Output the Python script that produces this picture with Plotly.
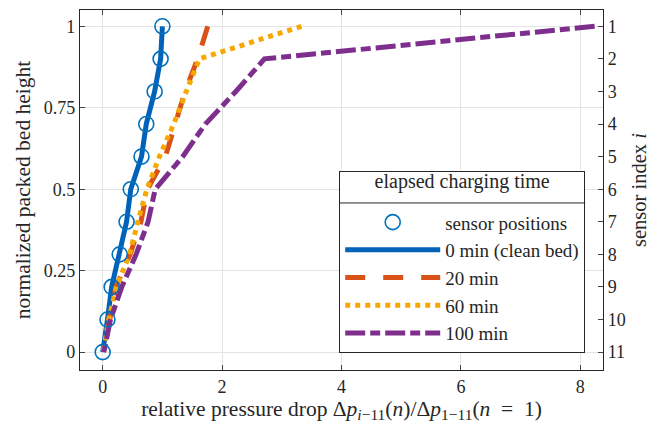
import plotly.graph_objects as go

# ---- data (ordered by sensor index i = 1 ... 11, top to bottom) ----
sensor_index = [1, 2, 3, 4, 5, 6, 7, 8, 9, 10, 11]
bed_height = [1.0, 0.9, 0.8, 0.7, 0.6, 0.5, 0.4, 0.3, 0.2, 0.1, 0.0]
dp_0min = [1.0, 0.97, 0.87, 0.73, 0.65, 0.47, 0.40, 0.285, 0.15, 0.08, 0.0]
dp_20min = [1.76, 1.59, 1.38, 1.21, 1.05, 0.75, 0.64, 0.46, 0.22, 0.12, 0.01]
dp_60min = [3.33, 1.62, 1.40, 1.19, 0.95, 0.74, 0.59, 0.45, 0.23, 0.10, 0.01]
dp_100min = [8.24, 2.71, 2.23, 1.72, 1.34, 0.88, 0.76, 0.56, 0.32, 0.13, 0.02]

x_ticks = [0, 2, 4, 6, 8]
y_ticks = [0, 0.25, 0.5, 0.75, 1]
y_ticklabels = ["0", "0.25", "0.5", "0.75", "1"]

FONT = "'Liberation Serif', 'Times New Roman', Times, serif"
AX = "#262626"

fig = go.Figure()
fig.add_trace(go.Scatter(x=dp_0min, y=bed_height, mode="lines", name="0 min (clean bed)",
                         line=dict(color="#0062B8", width=5), legendrank=2))
fig.add_trace(go.Scatter(x=dp_20min, y=bed_height, mode="lines", name="20 min",
                         line=dict(color="#D95319", width=5, dash="20px,18px"), legendrank=3))
fig.add_trace(go.Scatter(x=dp_60min, y=bed_height, mode="lines", name="60 min",
                         line=dict(color="#F7A800", width=5, dash="5px,5px"), legendrank=4))
fig.add_trace(go.Scatter(x=dp_100min, y=bed_height, mode="lines", name="100 min",
                         line=dict(color="#7E2F8E", width=5, dash="20px,5px,10px,5px"), legendrank=5))
fig.add_trace(go.Scatter(x=dp_0min, y=bed_height, mode="markers", name="sensor positions",
                         marker=dict(symbol="circle-open", size=15, color="#0072BD",
                                     line=dict(width=1.6, color="#0072BD")), legendrank=1))
# invisible trace carrying the sensor-index axis
fig.add_trace(go.Scatter(x=dp_0min, y=sensor_index, yaxis="y2", mode="markers",
                         marker=dict(opacity=0), showlegend=False, hoverinfo="skip"))

SUB = "<span style='font-size:15.5px'>{}</span>"
xtitle = ("relative pressure drop Δ<i>p</i><sub>" + SUB.format("<i>i</i>−11") + "</sub>(<i>n</i>)/Δ<i>p</i><sub>"
          + SUB.format("1−11") + "</sub>(<i>n</i>  =  1)")

# legend background and title separator (legend box itself is drawn by plotly)
fig.add_shape(type="rect", xref="paper", yref="paper", x0=0.498, x1=0.965, y0=0.05, y1=0.555,
              fillcolor="white", line=dict(width=0), layer="above")
fig.add_shape(type="line", xref="paper", yref="paper", x0=0.4955, x1=0.966, y0=0.464, y1=0.464,
              line=dict(color=AX, width=1), layer="above")

fig.update_layout(
    width=654, height=427,
    margin=dict(l=80, r=51, t=10, b=57),
    paper_bgcolor="white", plot_bgcolor="white",
    font=dict(family=FONT, size=19, color=AX),
    xaxis=dict(range=[-0.38, 8.38], tickvals=x_ticks, ticks="inside", ticklen=5,
               showline=True, linecolor=AX, linewidth=1.3, mirror="ticks",
               showgrid=True, gridcolor="#e3e3e3", gridwidth=1, zeroline=False,
               tickfont=dict(family=FONT, size=18), automargin=False,
               title=dict(text=xtitle, standoff=2, font=dict(family=FONT, size=21.5))),
    yaxis=dict(range=[-0.055, 1.05], tickvals=y_ticks, ticktext=y_ticklabels,
               ticks="inside", ticklen=5,
               showline=True, linecolor=AX, linewidth=1.3, mirror=True,
               showgrid=True, gridcolor="#e3e3e3", gridwidth=1, zeroline=False,
               tickfont=dict(family=FONT, size=18), automargin=False,
               title=dict(text="normalized packed bed height", standoff=7, font=dict(family=FONT, size=21.5))),
    yaxis2=dict(overlaying="y", side="right", range=[11.55, 0.5], tickvals=sensor_index,
                ticks="inside", ticklen=5, showline=True, linecolor=AX, linewidth=1.3,
                showgrid=False, zeroline=False, tickfont=dict(family=FONT, size=18),
                automargin=False,
                title=dict(text="sensor index <i>i</i>", standoff=6, font=dict(family=FONT, size=20.5))),
    legend=dict(x=0.966, y=0.047, xanchor="right", yanchor="bottom",
                bgcolor="rgba(0,0,0,0)", bordercolor=AX, borderwidth=1,
                font=dict(family=FONT, size=19), itemwidth=95, tracegroupgap=0,
                title=dict(text="<span style='font-size:20px'>elapsed charging time</span><br> ",
                           side="top center", font=dict(family=FONT, size=12))),
    showlegend=True,
)

fig.write_html("out.html", config={"displayModeBar": False},
               post_script="document.body.style.margin='0px';")
